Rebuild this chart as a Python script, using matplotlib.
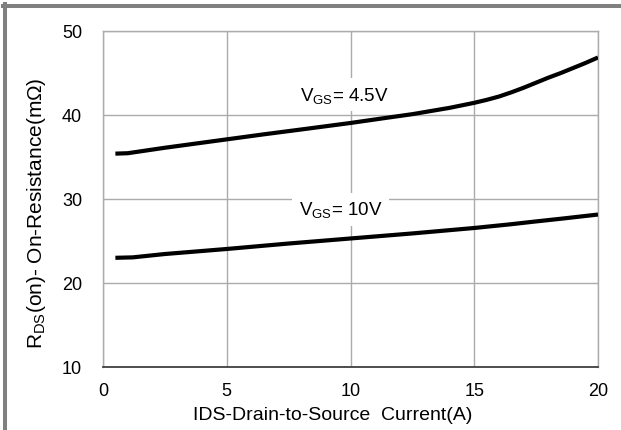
import matplotlib
matplotlib.use("Agg")
import matplotlib.pyplot as plt
from matplotlib.lines import Line2D

plt.rcParams['font.family'] = ['Liberation Sans', 'DejaVu Sans']
plt.rcParams['mathtext.fontset'] = 'custom'
plt.rcParams['mathtext.rm'] = 'Liberation Sans'
plt.rcParams['mathtext.it'] = 'Liberation Sans:italic'

# Data
ids_45 = [0.5, 1.0, 2.5, 5.0, 6.5, 8.2, 10.0, 11.3, 12.5, 14.0, 15.0, 15.5, 16.0, 16.5,
          17.0, 17.5, 18.0, 18.5, 19.0, 19.5, 20.0]
r_45 = [35.4, 35.45, 36.1, 37.1, 37.7, 38.35, 39.05, 39.6, 40.1, 40.85, 41.45, 41.8, 42.2, 42.7,
        43.25, 43.85, 44.45, 45.0, 45.6, 46.2, 46.85]
ids_10 = [0.5, 1.2, 2.5, 5.0, 7.5, 10.0, 12.5, 15.0, 16.5, 17.4, 18.5, 20.0]
r_10 = [23.0, 23.05, 23.45, 24.05, 24.7, 25.3, 25.9, 26.55, 27.0, 27.3, 27.65, 28.15]
xticks = [0, 5, 10, 15, 20]
yticks = [10, 20, 30, 40, 50]

W, H = 621, 431
fig = plt.figure(figsize=(W / 100, H / 100), dpi=100)
ax = fig.add_axes([103 / W, 1 - 368 / H, (598 - 103) / W, (368 - 32) / H])

ax.plot(ids_45, r_45, color='black', lw=3.0, solid_capstyle='butt', zorder=3)
ax.plot(ids_10, r_10, color='black', lw=3.0, solid_capstyle='butt', zorder=3)

ax.set_xlim(0, 20)
ax.set_ylim(10, 50)
ax.set_xticks(xticks)
ax.set_yticks(yticks)
ax.grid(True, color='#ababab', lw=1.0)
ax.set_axisbelow(True)
ax.tick_params(length=0, labelsize=13)
ax.tick_params(axis='x', pad=11)
ax.tick_params(axis='y', pad=15)
for s in ['left', 'top', 'right']:
    ax.spines[s].set_color('#ababab')
    ax.spines[s].set_linewidth(1.0)
ax.spines['bottom'].set_color('#404040')
ax.spines['bottom'].set_linewidth(1.3)

ax.set_xlabel('IDS-Drain-to-Source  Current(A)', fontsize=14, va='top')
ax.xaxis.set_label_coords((332.5 - 103) / 495, -(407 - 368) / 336)
ax.set_ylabel(r'R$_{\mathregular{DS}}$(on)- On-Resistance(m$\Omega$)', fontsize=15, va='center')
ax.yaxis.set_label_coords((37 - 103) / 495, (368 - 213) / 336)

bbox = dict(facecolor='white', edgecolor='none', boxstyle='square,pad=0.35')
ax.text(9.74, 41.8, r'V$_{\mathregular{GS}}$= 4.5V', ha='center', va='baseline',
        fontsize=13.5, bbox=bbox, zorder=2)
ax.text(9.6, 28.2, r'V$_{\mathregular{GS}}$= 10V', ha='center', va='baseline',
        fontsize=13.5, bbox=bbox, zorder=2)

# figure frame lines (left and top)
fig.add_artist(Line2D([4.7 / W, 4.7 / W], [0, 1 - 5 / H], transform=fig.transFigure,
                      color='#808080', lw=2.9))
fig.add_artist(Line2D([2.7 / W, 1], [1 - 7 / H, 1 - 7 / H], transform=fig.transFigure,
                      color='#808080', lw=2.9))

fig.savefig('out.png', dpi=100)
